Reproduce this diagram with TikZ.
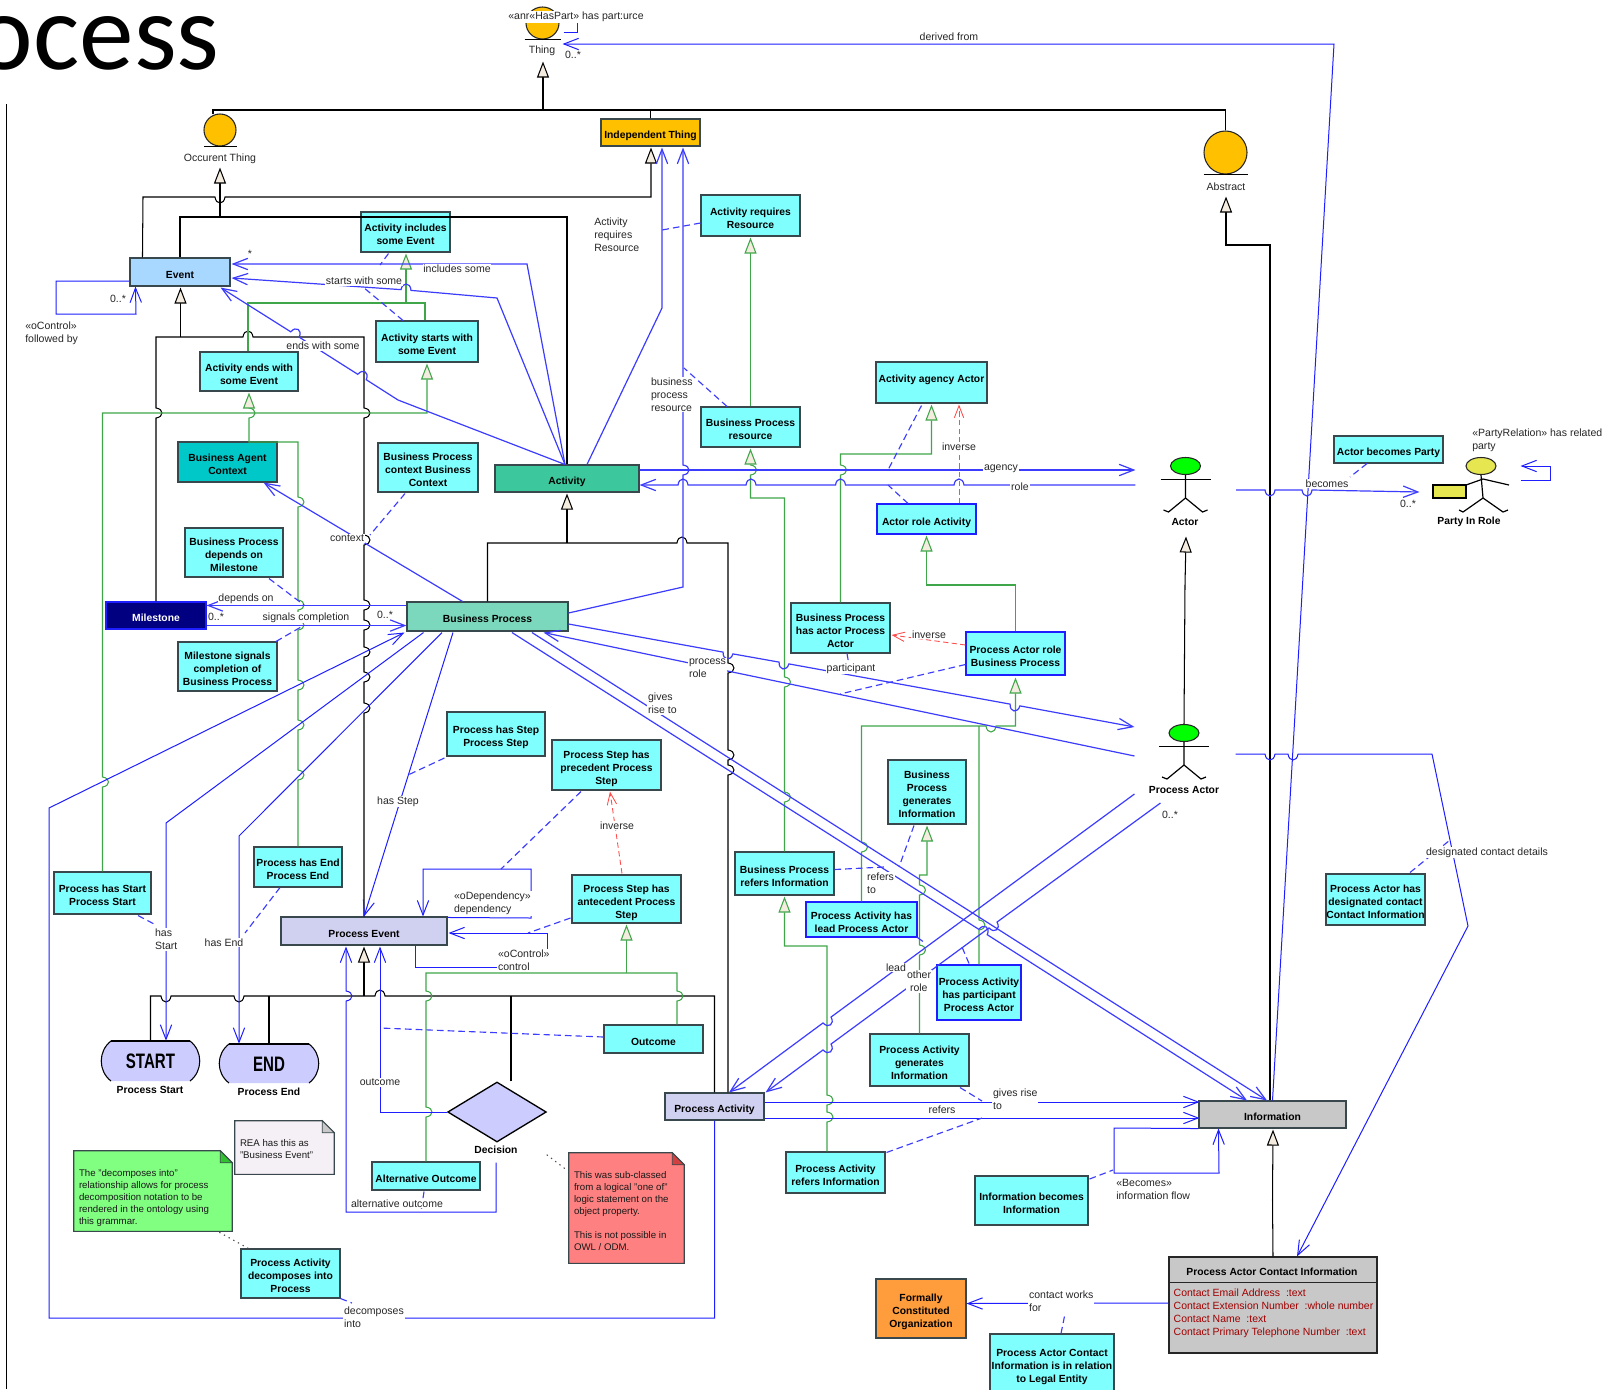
\documentclass[tikz,border=0pt]{standalone}
\usepackage{fontspec}
\usepackage{graphicx}
\setmainfont{Liberation Sans}
\newfontfamily\ttlfont{Carlito}
\usetikzlibrary{arrows.meta,calc,shapes.geometric}
\definecolor{bl}{HTML}{3C3CFF}
\definecolor{blb}{HTML}{1E1EFF}
\definecolor{gn}{HTML}{3FA64A}
\definecolor{cyn}{HTML}{80FFFF}
\definecolor{tri}{HTML}{F5ECE0}
\definecolor{orng}{HTML}{FFC000}
\definecolor{lav}{HTML}{D0D0F0}
\definecolor{per}{HTML}{CCCCFF}
\definecolor{gry}{HTML}{C8C8C8}
\definecolor{edge}{HTML}{38484C}
\definecolor{evtc}{HTML}{A8D8FF}
\definecolor{bacc}{HTML}{00C8C8}
\definecolor{actc}{HTML}{3CC89C}
\definecolor{msc}{HTML}{000080}
\definecolor{bpcl}{HTML}{7CD8BC}
\definecolor{orgc}{HTML}{FF9C3C}
\definecolor{attr}{HTML}{A00000}
\definecolor{yel}{HTML}{E6E650}
\definecolor{nw}{HTML}{F5F0F5}
\definecolor{ng}{HTML}{80FF80}
\definecolor{ngd}{HTML}{30C030}
\definecolor{nr}{HTML}{FF8080}
\definecolor{nrd}{HTML}{D04040}
\tikzset{
 opn/.tip={Straight Barb[length=11pt,width=8.5pt]},
 gen/.tip={Triangle[length=12pt,width=9pt,fill=tri]},
 opr/.tip={Straight Barb[length=9pt,width=7pt]},
 blu/.style={draw=bl,line width=0.9pt},
 blb/.style={draw=blb,line width=0.75pt},
 gr/.style={draw=gn,line width=0.8pt},
 blk/.style={draw=black,line width=0.78pt},
 dsh/.style={draw=bl,line width=0.85pt,dash pattern=on 5pt off 3pt},
 rdsh/.style={draw=red!70,line width=0.65pt,dash pattern=on 4pt off 2.5pt},
 dots/.style={draw=black!70,line width=0.8pt,dash pattern=on 1pt off 3pt},
 bxs/.style={rectangle,draw=edge,line width=0.8pt,inner sep=0pt,align=center,text=black,
   font=\fontsize{7.75}{9.75}\selectfont\bfseries},
 cb/.style={bxs,fill=cyn},
 cbb/.style={bxs,fill=cyn,draw=blb},
 ell/.style={ellipse,draw=black!85,line width=0.8pt,inner sep=0pt},
 lab/.style={fill=white,inner sep=0.6pt,yshift=-1.2pt,align=left,text=black!85,font=\fontsize{7.9}{9.75}\selectfont},
 labn/.style={inner sep=0pt,yshift=-1.2pt,align=left,text=black!85,font=\fontsize{7.9}{9.75}\selectfont},
 labb/.style={inner sep=0pt,yshift=-1.2pt,align=center,text=black,font=\fontsize{7.75}{9.75}\selectfont\bfseries},
 notetxt/.style={inner sep=0pt,align=left,anchor=north west,text=black!90,font=\fontsize{7.25}{9}\selectfont},
 blank/.style={rectangle,inner sep=0pt},
 stk/.style={draw=black,line width=0.9pt},
}
\newcommand{\bx}[7]{%
 \pgfmathsetmacro\bxw{(#5-#3)*0.75}\pgfmathsetmacro\bxh{(#6-#4)*0.75}%
 \node[#1,minimum width=\bxw pt,minimum height=\bxh pt] (#2) at ({(#3+#5)/2},{(#4+#6)/2}) {\raisebox{-2.6pt}[\height][\depth]{\begin{tabular}{@{}c@{}}#7\end{tabular}}};}
\newcommand{\JU}[2]{-- (#1-5,#2) .. controls (#1-4,#2-8) and (#1+4,#2-8) .. (#1+5,#2)}
\newcommand{\JD}[2]{-- (#1-5,#2) .. controls (#1-4,#2+8) and (#1+4,#2+8) .. (#1+5,#2)}
\newcommand{\JRd}[2]{-- (#1,#2-5) .. controls (#1+8,#2-4) and (#1+8,#2+4) .. (#1,#2+5)}
\newcommand{\JRu}[2]{-- (#1,#2+5) .. controls (#1+8,#2+4) and (#1+8,#2-4) .. (#1,#2-5)}
\newcommand{\JG}[6]{-- (#1-5*#3,#2-5*#4) .. controls (#1-4*#3+8*#5,#2-4*#4+8*#6) and (#1+4*#3+8*#5,#2+4*#4+8*#6) .. (#1+5*#3,#2+5*#4)}
\newcommand{\notebox}[8]{%
 \bx{blank}{#1}{#2}{#3}{#4}{#5}{}%
 \draw[edge,line width=0.8pt,fill=#6] (#1.north west) -- ($(#1.north east)+(-12,0)$) -- ($(#1.north east)+(0,12)$) -- (#1.south east) -- (#1.south west) -- cycle;
 \draw[edge,line width=0.7pt,fill=#7] ($(#1.north east)+(-12,0)$) -- ($(#1.north east)+(-12,12)$) -- ($(#1.north east)+(0,12)$) -- cycle;
 \node[notetxt] (#1t) at ($(#1.north west)+(5,18)$) {#8};}
\newcommand{\barrel}[6]{%
 \fill[per] (#2+9,#3) .. controls (#2-4,#3+10) and (#2-4,#5-10) .. (#2+9,#5) -- (#4-9,#5) .. controls (#4+4,#5-10) and (#4+4,#3+10) .. (#4-9,#3) -- cycle;
 \draw[black,line width=0.8pt] (#2+9,#3) .. controls (#2-4,#3+10) and (#2-4,#5-10) .. (#2+9,#5);
 \draw[black,line width=0.8pt] (#4-9,#3) .. controls (#4+4,#3+10) and (#4+4,#5-10) .. (#4-9,#5);
 \draw[black,line width=1.5pt] (#2+9,#3) -- (#4-9,#3);
 \bx{blank,text=black,font=\fontsize{15.7}{16}\selectfont\bfseries}{#1}{#2}{#3}{#4}{#5}{\scalebox{0.72}[1]{#6}}}
\newcommand{\stick}[4]{% name, cx, cy, fill
 \node[ell,fill=#4,minimum width=22.5pt,minimum height=12.75pt] (#1) at (#2,#3) {};
 \draw[stk] (#2-25,#3+13.5) -- (#2+25,#3+13.5);
 \draw[stk] (#1.south) -- (#2,#3+32) -- (#2-17,#3+46) -- (#2-22,#3+44);
 \draw[stk] (#2,#3+32) -- (#2+17,#3+46) -- (#2+22,#3+44);}
\begin{document}
\begin{tikzpicture}[x=0.75pt,y=-0.75pt]
\useasboundingbox (0,0) rectangle (1606,1389);
\clip (0,0) rectangle (1606,1389);
\fill[white] (0,0) rectangle (1606,1389);

\node[anchor=base east,inner sep=0pt,font=\ttlfont\fontsize{82}{82}\selectfont] (title) at (220,69) {ocess};
\coordinate (railtop) at (6.6,104);
\coordinate (railend) at (6.6,1389);
\draw[black,line width=0.8pt] (railtop) -- (railend);

% boxes and class shapes
\bx{ell,fill=orng}{thing}{526}{7}{559}{39}{}
\bx{ell,fill=orng}{occ}{204}{114}{236}{146}{}
\bx{ell,fill=orng}{abst}{1204}{131}{1247}{174}{}
\bx{bxs,fill=orng}{indep}{601}{119}{700}{146}{Independent Thing}
\bx{bxs,fill=evtc}{evt}{130}{258}{230}{286}{Event}
\bx{cb}{ainc}{361}{212}{450}{252}{Activity includes\\some Event}
\bx{cb}{astart}{376}{321}{478}{362}{Activity starts with\\some Event}
\bx{cb}{aends}{200}{352}{298}{391}{Activity ends with\\some Event}
\bx{bxs,fill=bacc}{bac}{178}{442}{277}{482}{Business Agent\\Context}
\bx{cb}{bpc}{378}{443}{478}{492}{Business Process\\context Business\\Context}
\bx{bxs,fill=actc}{act}{495}{465}{639}{492}{Activity}
\bx{cb}{arr}{701}{195}{800}{236}{Activity requires\\Resource}
\bx{cb}{bpres}{701}{407}{800}{447}{Business Process\\resource}
\bx{cb}{aaa}{876}{362}{987}{403}{Activity agency Actor\\\mbox{}}
\bx{cbb}{ara}{877}{504}{976}{534}{Actor role Activity}
\bx{cb}{abp}{1334}{436}{1443}{463}{Actor becomes Party}
\bx{cb}{bdm}{185}{528}{283}{577}{Business Process\\depends on\\Milestone}
\bx{bxs,fill=msc,draw=blb,text=white}{ms}{106}{602}{206}{629}{Milestone}
\bx{bxs,fill=bpcl}{bp}{407}{602}{568}{631}{Business Process}
\bx{cb}{msc}{178}{642}{277}{691}{Milestone signals\\completion of\\Business Process}
\bx{cb}{bha}{791}{603}{890}{653}{Business Process\\has actor Process\\Actor}
\bx{cbb}{parb}{966}{632}{1065}{675}{Process Actor role\\Business Process}
\bx{cb}{phs}{447}{712}{545}{756}{Process has Step\\Process Step}
\bx{cb}{prec}{552}{740}{661}{790}{Process Step has\\precedent Process\\Step}
\bx{cb}{bgi}{888}{760}{966}{824}{Business\\Process\\generates\\Information}
\bx{cb}{phe}{254}{847}{342}{887}{Process has End\\Process End}
\bx{cb}{pst}{54}{872}{151}{914}{Process has Start\\Process Start}
\bx{cb}{bpri}{735}{852}{834}{895}{Business Process\\refers Information}
\bx{cb}{pacd}{1326}{874}{1425}{925}{Process Actor has\\designated contact\\Contact Information}
\bx{cb}{pant}{572}{875}{681}{923}{Process Step has\\antecedent Process\\Step}
\bx{cbb}{palead}{806}{902}{917}{937}{Process Activity has\\lead Process Actor}
\bx{bxs,fill=lav}{pe}{281}{917}{447}{945}{Process Event}
\bx{cbb}{pap}{937}{965}{1021}{1020}{Process Activity\\has participant\\Process Actor}
\bx{cb}{outc}{604}{1025}{703}{1053}{Outcome}
\bx{cb}{pag}{870}{1034}{969}{1086}{Process Activity\\generates\\Information}
\bx{bxs,fill=lav}{pa}{665}{1093}{764}{1120}{Process Activity}
\bx{bxs,fill=gry}{inf}{1199}{1101}{1346}{1128}{Information}
\bx{cb}{aalt}{372}{1162}{480}{1190}{Alternative Outcome}
\bx{cb}{parf}{786}{1152}{885}{1193}{Process Activity\\refers Information}
\bx{cb}{ibi}{975}{1176}{1088}{1225}{Information becomes\\Information}
\bx{cb}{pdec}{241}{1249}{340}{1298}{Process Activity\\decomposes into\\Process}
\bx{bxs,fill=orgc}{org}{876}{1279}{966}{1338}{Formally\\Constituted\\Organization}
\bx{cb}{legal}{990}{1334}{1114}{1392}{Process Actor Contact\\Information is in relation\\to Legal Entity}
\bx{bxs,fill=gry,draw=black!85}{pci}{1169}{1257}{1377}{1353}{}
\draw[black!85,line width=0.8pt] ($(pci.north west)+(0,26)$) -- ($(pci.north east)+(0,26)$);
\node[labb] (pcit) at ($(pci.north)+(-1,14)$) {Process Actor Contact Information};
\node[inner sep=0pt,anchor=north west,align=left,text=attr,font=\fontsize{7.85}{9.75}\selectfont] (pcia) at ($(pci.north west)+(5,32)$) {Contact Email Address\ \ :text\\Contact Extension Number\ \ :whole number\\Contact Name\ \ :text\\Contact Primary Telephone Number\ \ :text};
\node[diamond,draw=black,line width=1pt,fill=per,inner sep=0pt,minimum width=74pt,minimum height=45pt] (dec) at (497,1112) {};
\barrel{st}{102}{1041}{199}{1081}{START}
\barrel{en}{220}{1044}{318}{1083}{END}
\stick{acth}{1185.5}{466}{green}
\stick{pah}{1184}{733}{green}
% party figure
\draw[fill=yel,draw=black,line width=0.8pt] (1433,485) rectangle (1466,498);
\node[ell,fill=yel,minimum width=22.5pt,minimum height=12.75pt] (partyh) at (1481,466) {};
\draw[stk] (1466,485) -- (1483,479) -- (1509,485);
\draw[stk] (partyh.south) -- (1483,498) -- (1463,512) -- (1459,510);
\draw[stk] (1483,498) -- (1503,512) -- (1508,510);
% notes
\notebox{rean}{235}{1121}{334}{1174}{nw}{gry}{REA has this as\\"Business Event"}
\notebox{gnote}{74}{1151}{232}{1231}{ng}{ngd}{The "decomposes into"\\relationship allows for process\\decomposition notation to be\\rendered in the ontology using\\this grammar.}
\notebox{rnote}{569}{1153}{684}{1263}{nr}{nrd}{This was sub-classed\\from a logical "one of"\\logic statement on the\\object property.\\[9pt]This is not possible in\\OWL / ODM.}

% base lines
\draw[black,line width=0.9pt] ($(thing.south)+(-18,0)$) -- ($(thing.south)+(18,0)$);
\draw[black,line width=0.9pt] ($(occ.south)+(-16,0)$) -- ($(occ.south)+(17,0)$);
\draw[black,line width=0.9pt] ($(abst.south)+(-22,0)$) -- ($(abst.south)+(22,0)$);

% black generalisations
\draw[blk] ($(occ.north)+(-7,1)$) -- (213,110) -- (1225.5,110) -- (abst.north);
\draw[blk] (indep.north) -- (650.5,110);
\draw[blk,-{gen}] (543,110) -- ($(thing.south)+(0.5,22)$);
\draw[blk] (evt.north) -- (180,217) -- (567,217) -- (act.north);
\draw[blk,-{gen}] (220,217) -- ($(occ.south)+(0,21)$);
\draw[blk,-{gen}] ($(evt.north west)+(13,0)$) -- (143,197) \JD{220}{197} -- (651,197) -- ($(indep.south)+(0.5,1)$);
\draw[blk] (ms.north) \JRu{156}{413} -- (156,337) \JU{248}{337} -- (364,337) \JRd{364}{413} \JRd{364}{540} \JRd{364}{605} \JRd{364}{625} \JRd{364}{652} \JRd{364}{677} \JRd{364}{708} -- (pe.north);
\draw[blk,-{gen}] (180.5,337) -- ($(evt.south)+(0.5,1)$);
\draw[blk,-{gen}] (567,543) -- ($(act.south)+(0,1)$);
\draw[blk] (bp.north) -- (487.5,543) \JU{682}{543} -- (728,543) \JRd{728}{668} \JRd{728}{755} \JRd{728}{770} -- ($(pa.north)+(13.5,0)$);
\draw[blk,-{gen}] (364,996) -- ($(pe.south)+(0,1)$);
\draw[blk] (st.north) -- (150.5,996) \JD{166}{996} \JD{239}{996} \JU{380}{996} -- (714.5,996) -- (pa.north);
\draw[blk] (en.north) -- (269,996);
\draw[blk] ($(dec.north)+(14,0)$) -- (511,996);
\draw[blk,-{gen}] ($(inf.north)+(-2.5,0)$) -- (1270,245) -- (1226,245) -- ($(abst.south)+(0.5,22)$);
\draw[blk,-{gen}] (pci.north) -- (1272.5,1200) -- ($(inf.south)+(0.5,1)$);
\draw[blk,-{gen}] (pah.north) -- (1185,585) -- ($(acth.south)+(0.5,61.5)$);

% green generalisations
\draw[gr,-{gen}] (bpres.north) -- ($(arr.south)+(0,1)$);
\draw[gr,-{gen}] (406,303) -- ($(ainc.south)+(0.5,1)$);
\draw[gr] ($(aends.north)+(-1,0)$) -- (248,303) -- (425,303) -- ($(astart.north)+(-2,0)$);
\draw[gr,-{gen}] (pst.north) \JRu{102.5}{782} -- (102.5,413) -- (427,413) -- ($(astart.south)+(0,1)$);
\draw[gr,-{gen}] ($(phe.north)$) \JRu{298}{775} \JRu{298}{725} \JRu{298}{685} \JRu{298}{625} \JRu{298}{605} \JRu{298}{502} -- (298,442) -- (249,442) \JRu{249}{413} -- ($(aends.south)+(0,1)$);
\draw[gr,-{gen}] (bpri.north) \JRu{784.5}{797} \JRu{784.5}{682} -- (784.5,498) -- (750.5,498) \JRu{750.5}{470} -- ($(bpres.south)+(0,1)$);
\draw[gr,-{gen}] (bha.north) \JRu{840.5}{470} -- (840.5,454) -- (931.5,454) -- ($(aaa.south)+(0,1)$);
\draw[gr,-{gen}] (parb.north) -- (1015.5,585) -- (926.5,585) -- ($(ara.south)+(0,1)$);
\draw[gr,-{gen}] (palead.north) \JRu{861.5}{847} -- (861.5,726) \JD{991}{726} -- (1015.5,726) -- ($(parb.south)+(0,2)$);
\draw[gr] ($(pap.north)+(0,0)$) \JRu{979}{925} -- (979,726);
\draw[gr,-{gen}] ($(pag.north)$) \JRu{919.5}{950} \JRu{919.5}{890} -- (919.5,875) -- (927,875) -- ($(bgi.south)+(0,1)$);
\draw[gr,-{gen}] ($(parf.north)+(-8.5,0)$) \JRu{827}{1117} \JRu{827}{1100} -- (827,946) -- (784.5,946) -- ($(bpri.south)+(0,1)$);
\draw[gr,-{gen}] (626.5,973) -- ($(pant.south)+(0,1)$);
\draw[gr] (aalt.north) \JRu{426}{1112} \JRu{426}{996} -- (426,973) -- (677,973) \JRd{677}{996} -- ($(outc.north)+(23.5,0)$);

% blue associations
\draw[blb,{opn}-] ($(thing.east)+(3,21)$) -- (1334,44) -- (inf.north);
\draw[blb] ($(thing.east)+(4,9)$) -- (577,32) -- (577,23);
\draw[blb,-{opn}] ($(evt.west)+(0,9)$) -- (56,281) -- (56,314) -- (136,314) -- ($(evt.south west)+(6,0)$);
\draw[blu,{opn}-] ($(evt.east)+(1,-8)$) -- (527,264) -- ($(act.north)+(-2,0)$);
\draw[blu,{opn}-] ($(evt.east)+(1,6)$) \JG{406}{290}{0.997}{0.075}{0.075}{-0.997} -- (497,298) -- ($(act.north)+(-2,0)$);
\draw[blu,{opn}-] ($(evt.south east)+(-10,1)$) \JG{295}{334.5}{0.844}{0.536}{0.536}{-0.844} \JG{362}{377}{0.844}{0.536}{0.536}{-0.844} -- (398,400) -- ($(act.north)+(-2,0)$);
\draw[blu,{opn}-] ($(indep.south)+(11.5,1)$) -- (662,308) -- ($(act.north)+(20,0)$);
\draw[blu,{opn}-] ($(indep.south)+(32.5,1)$) \JRd{683}{470} -- (683,587) -- ($(bp.east)+(0,-3.5)$);
\draw[blu,-{opn}] ($(act.east)+(0,-8.5)$) -- ($(acth.west)+(-34.5,4)$);
\draw[blu,{opn}-] ($(act.east)+(0,6.5)$) \JU{683}{485} \JU{751}{485} \JU{840.5}{485} \JU{959}{485} -- ($(acth.west)+(-34.5,19)$);
\draw[blu,-{opn}] ($(acth.east)+(35,24)$) \JD{1270}{490} \JD{1307}{490} -- ($(partyh.west)+(-46,26)$);
\draw[blb,{opn}-] ($(partyh.east)+(24,0)$) -- (1550,466) -- (1550,480) -- ($(partyh.east)+(24,14)$);
\draw[blu,-{opn}] ($(bp.east)+(0,7.5)$) \JG{728}{653}{0.984}{0.179}{-0.179}{0.984} \JG{784}{663}{0.984}{0.179}{-0.179}{0.984} \JG{1015}{705}{0.984}{0.179}{-0.179}{0.984} -- ($(pah.west)+(-34,-6)$);
\draw[blu,{opn}-] ($(bp.south)+(56,1)$) -- ($(pah.west)+(-34,23)$);
\draw[blb,-{opn}] ($(pah.east)+(36,21)$) \JD{1270}{754} \JD{1293}{754} -- (1432,754) -- (1468,926) -- ($(pci.north)+(24,0)$);
\draw[blu,{opn}-] ($(pa.north)+(14.5,0)$) \JG{827}{1020}{0.806}{-0.592}{0.592}{0.806} -- ($(pah.west)+(-34,61)$);
\draw[blu,{opn}-] ($(pa.north east)+(1,0)$) \JG{827}{1047}{0.806}{-0.592}{0.592}{0.806} \JG{993}{925}{0.806}{-0.592}{0.592}{0.806} -- ($(pah.west)+(-8,70)$);
\draw[blu,-{opn}] ($(bp.south)+(24.5,1)$) \JG{983}{932}{0.843}{0.537}{0.537}{-0.843} -- ($(inf.north)+(-25.5,0)$);
\draw[blu,-{opn}] ($(bp.south)+(44.5,1)$) -- ($(inf.north)+(-5.5,0)$);
\draw[blu,-{opn}] ($(bp.north west)+(0,4)$) -- ($(ms.north east)+(0,4)$);
\draw[blu,-{opn}] ($(ms.south east)+(0,-4)$) -- ($(bp.south west)+(0,-6)$);
\draw[blu,-{opn}] ($(bp.north)+(-25,0)$) -- ($(bac.south east)+(-14,0)$);
\draw[blb,-{opn}] ($(bp.south)+(-34.5,1)$) -- (pe.north);
\draw[blb,-{opn}] ($(bp.south)+(-64,1)$) -- (166,823) -- ($(st.north)+(15.5,0)$);
\draw[blb,-{opn}] ($(bp.south)+(-45.5,1)$) -- (239,836) -- ($(en.north)+(-30,0)$);
\draw[blb,-{opn}] (pa.south) -- (714.5,1318) -- (49,1318) -- (49,808) -- ($(bp.south west)+(-2,1)$);
\draw[blb,-{opn}] ($(pe.north east)+(0,1)$) -- (531,918) -- (531,869) -- (423,869) -- ($(pe.north)+(59,0)$);
\draw[blb,-{opn}] ($(pe.south)+(51,0)$) -- (415,967) -- (547,967) -- (547,933) -- ($(pe.east)+(1,2)$);
\draw[blb,-{opn}] ($(dec.south)+(-1,20)$) -- (496,1212) -- (346,1212) \JRu{346}{996} -- ($(pe.south)+(-18,1)$);
\draw[blb,-{opn}] (dec.west) -- (380,1112) -- ($(pe.south)+(16,1)$);
\draw[blb,-{opn}] ($(pa.east)+(0,-4.5)$) -- ($(inf.west)+(1,-12.5)$);
\draw[blb,-{opn}] ($(pa.east)+(0,11.5)$) -- ($(inf.west)+(1,3.5)$);
\draw[blb,-{opn}] (inf.south west) -- (1114,1128) -- (1114,1173) -- (1219,1173) -- ($(inf.south west)+(20,0)$);
\draw[blb,-{opn}] ($(pci.west)+(0,-2)$) -- ($(org.east)+(0,-5)$);

% dashed association-class links
\draw[dsh] ($(ainc.south)+(-17,1)$) -- (380,265);
\draw[dsh] ($(astart.north)+(-24,0)$) -- (363,287);
\draw[dsh] ($(arr.west)+(0,7.5)$) -- (662,230);
\draw[dsh] ($(bpres.north)+(-23.5,0)$) -- (684,368);
\draw[dsh] ($(bpc.south)+(-23,1)$) -- (370,535);
\draw[dsh] ($(bdm.south)+(35,1)$) -- (304,605);
\draw[dsh] ($(msc.north)+(48.5,0)$) -- (301,627);
\draw[dsh] ($(phs.west)+(-2,24)$) -- (408,775);
\draw[dsh] ($(prec.south)+(-25.5,1)$) -- (501,869);
\draw[dsh] ($(phe.south)+(-18,0)$) -- (245,933);
\draw[dsh] ($(pst.south)+(35.5,1)$) -- (156,925);
\draw[dsh] ($(pant.west)+(-1,19)$) -- (528,933);
\draw[dsh] ($(outc.west)+(0,-2)$) -- (380,1028);
\draw[dsh] ($(aalt.south)+(-2,1)$) -- (421,1212);
\draw[dsh] ($(pdec.south east)+(0,0)$) -- (352,1303);
\draw[dsh] ($(aaa.south)+(-10,2)$) -- (888,470);
\draw[dsh] ($(ara.north)+(-18.5,0)$) -- (888,485);
\draw[dsh] ($(bha.south)+(6.5,0)$) -- (849,665);
\draw[dsh] ($(parb.west)+(0,11)$) -- (840,694);
\draw[dsh] ($(bpri.east)+(0,-4)$) -- (884,867);
\draw[dsh] ($(bgi.south)+(-13,1)$) -- (899,867);
\draw[dsh] (palead.south east) -- (925,943);
\draw[dsh] ($(pap.north)+(-10,-1)$) -- (962,947);
\draw[dsh] ($(pag.south)+(40.5,1)$) -- (982,1101);
\draw[dsh] ($(parf.north east)+(1,1)$) -- (982,1118);
\draw[dsh] ($(ibi.east)+(1,-21.5)$) -- (1113,1170);
\draw[dsh] ($(pacd.north)+(34.5,-1)$) -- (1450,840);
\draw[dsh] ($(abp.south)+(-21.5,0)$) -- (1350,477);
\draw[dsh] ($(legal.north)+(9,0)$) -- (1067,1304);
\draw[rdsh,-{opr}] ($(ara.north)+(32.5,0)$) -- ($(aaa.south)+(27.5,1)$);
\draw[rdsh,-{opr}] ($(parb.west)+(0,-8.5)$) -- ($(bha.east)+(1,7)$);
\draw[rdsh,-{opr}] ($(pant.north)+(-4.5,-1)$) -- ($(prec.south)+(3.5,1)$);
\draw[dots] ($(gnote.south east)+(-13,1)$) -- ($(pdec.north west)+(8,0)$);
\draw[dots] ($(rnote.north west)+(-22,2)$) -- ($(rnote.west)+(-2,-38)$);

% labels
\node[lab] (l1) at (576,15.5) {«anr«HasPart» has part:urce};
\node[labn] (l2) at (542,49.5) {Thing};
\node[labn] (l3) at (573,53.5) {0..*};
\node[labn] (l4) at (949,35) {derived from};
\node[labn] (l5) at (220,157) {Occurent Thing};
\node[labn] (l6) at (1226,185) {Abstract};
\node[labn] (l7) at (250,252) {*};
\node[labn] (l8) at (118,297) {0..*};
\node[labn,anchor=west] (l9) at (25,331.5) {«oControl»\\followed by};
\node[lab] (l10) at (457,267.5) {includes some};
\node[lab] (l11) at (364,279.5) {starts with some};
\node[lab] (l12) at (323,344.5) {ends with some};
\node[labn,anchor=west] (l13) at (594,233) {Activity\\requires\\Resource};
\node[lab,anchor=west] (l14) at (650,393) {business\\process\\resource};
\node[lab] (l15) at (959,445) {inverse};
\node[lab] (l16) at (1001,467.5) {agency};
\node[lab] (l17) at (1020,485.5) {role};
\node[lab] (l18) at (1327,482) {becomes};
\node[labn] (l19) at (1408,502) {0..*};
\node[labn,anchor=west] (l20) at (1472,439) {«PartyRelation» has related\\party};
\node[lab] (l21) at (347,537) {context};
\node[lab] (l22) at (246,597.5) {depends on};
\node[labn] (l23) at (216,615) {0..*};
\node[labn] (l24) at (385,613) {0..*};
\node[lab] (l25) at (306,616) {signals completion};
\node[lab,anchor=west] (l26) at (688,667) {process\\role};
\node[lab] (l27) at (929,633) {inverse};
\node[lab] (l28) at (851,667) {participant};
\node[lab,anchor=west] (l29) at (647,702) {gives\\rise to};
\node[lab] (l30) at (398,800) {has Step};
\node[lab] (l31) at (617,824) {inverse};
\node[lab,anchor=west] (l32) at (453,902) {«oDependency»\\dependency};
\node[lab,anchor=west] (l33) at (154,938) {has\\Start};
\node[lab] (l34) at (224,941) {has End};
\node[lab,anchor=west] (l35) at (497,959) {«oControl»\\control};
\node[lab] (l36) at (380,1081) {outcome};
\node[lab] (l37) at (397,1202) {alternative outcome};
\node[lab,anchor=west] (l38) at (343,1316) {decomposes\\into};
\node[lab,anchor=west] (l39) at (866,882) {refers\\to};
\node[lab] (l40) at (896,966) {lead};
\node[lab,anchor=west] (l41) at (906,980) {other\\\ role};
\node[labn] (l42) at (1170,813) {0..*};
\node[lab] (l43) at (1487,851) {designated contact details};
\node[lab,anchor=west] (l44) at (992,1098) {gives rise\\to};
\node[lab] (l45) at (942,1108) {refers};
\node[labn,anchor=west] (l46) at (1116,1188) {«Becomes»\\information flow};
\node[lab,anchor=west] (l47) at (1028,1300) {contact works\\for};
\node[labb] (l48) at (1185,520) {Actor};
\node[labb] (l49) at (1469,520) {Party In Role};
\node[labb] (l50) at (1184,788) {Process Actor};
\node[labb] (l51) at (150,1088) {Process Start};
\node[labb] (l52) at (269,1090) {Process End};
\node[labb] (l53) at (496,1148) {Decision};
\end{tikzpicture}
\end{document}
